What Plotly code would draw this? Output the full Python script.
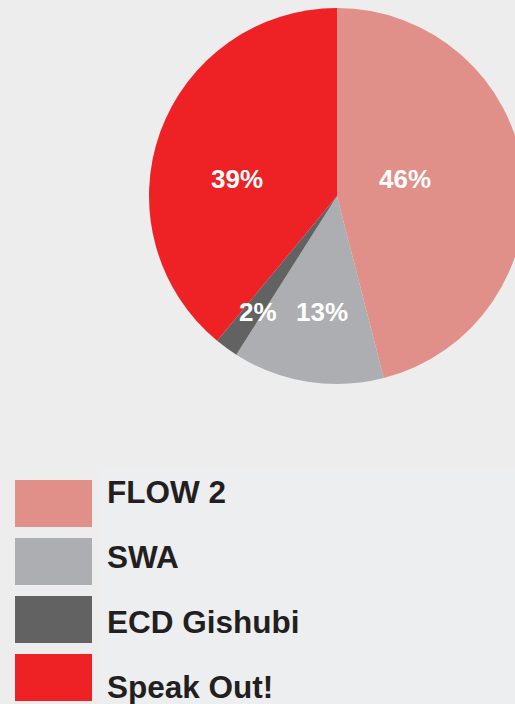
import plotly.graph_objects as go

categories = ["FLOW 2", "SWA", "ECD Gishubi", "Speak Out!"]
values = [46, 13, 2, 39]
colors = ["#e18f89", "#adaeb1", "#626262", "#ee2224"]

# figure is slightly wider than the window so the pie runs off the right edge
W, H = 525, 704


def px(x):
    return x / W


def py(y):
    return 1 - y / H


fig = go.Figure()
fig.add_trace(go.Pie(
    labels=categories, values=values, sort=False, direction="clockwise",
    rotation=0, marker=dict(colors=colors, line=dict(width=0)),
    textinfo="none",
    domain=dict(x=[px(149), px(525)], y=[py(385), py(7)]),
    showlegend=False, hoverinfo="label+percent",
))

# percentage labels (placed as in the reference)
label_xy = [(404.5, 179), (322, 312), (258, 312), (236.5, 179)]
annotations = []
for v, (lx, ly) in zip(values, label_xy):
    annotations.append(dict(text=f"<b>{v}%</b>", xref="paper", yref="paper",
                            x=px(lx), y=py(ly), xanchor="center", yanchor="middle",
                            showarrow=False,
                            font=dict(family="Liberation Sans", size=26, color="white")))

shapes = [dict(type="rect", xref="paper", yref="paper", x0=px(102), x1=1,
               y0=0, y1=py(469), fillcolor="#edeef0", line=dict(width=0),
               layer="below")]
for i, (cat, col) in enumerate(zip(categories, colors)):
    top = 480 + 58 * i
    shapes.append(dict(type="rect", xref="paper", yref="paper",
                       x0=px(15), x1=px(92), y0=py(top + 47), y1=py(top),
                       fillcolor=col, line=dict(width=0)))
    yc = 492 + 65 * i
    annotations.append(dict(text=f"<b>{cat}</b>", xref="paper", yref="paper",
                            x=px(105), y=py(yc), xanchor="left", yanchor="middle",
                            showarrow=False,
                            font=dict(family="Liberation Sans", size=31.5, color="#231f20")))

fig.update_layout(width=W, height=H, margin=dict(l=0, r=0, t=0, b=0),
                  paper_bgcolor="#ededed", plot_bgcolor="#ededed",
                  shapes=shapes, annotations=annotations)
fig.write_html("out.html", config={"displayModeBar": False},
               post_script="document.body.style.margin='0';"
                           "document.body.style.overflow='hidden';")
